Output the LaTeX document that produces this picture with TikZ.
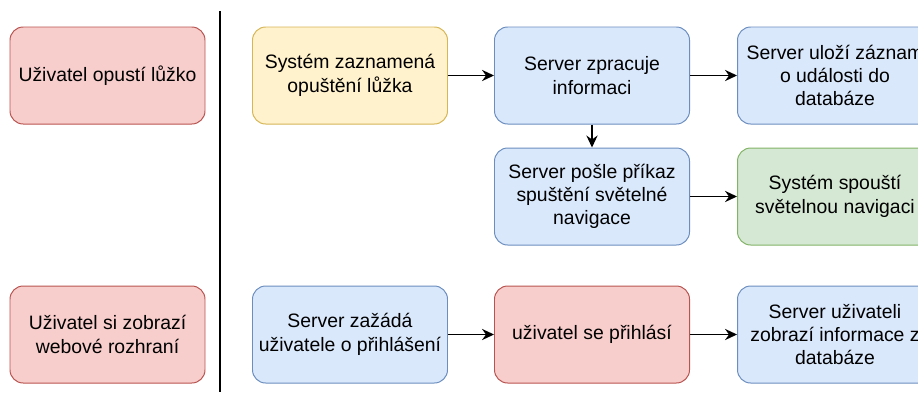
\documentclass[tikz,border=0pt]{standalone}
\usepackage{fontspec}
\setmainfont{Liberation Sans}
\usepackage{tikz}
\usepackage{xcolor}
\usetikzlibrary{positioning, arrows.meta}

\definecolor{userfill}{HTML}{F8CECC}
\definecolor{userline}{HTML}{B85450}
\definecolor{sensorfill}{HTML}{FFF2CC}
\definecolor{sensorline}{HTML}{D6B656}
\definecolor{serverfill}{HTML}{DAE8FC}
\definecolor{serverline}{HTML}{6C8EBF}
\definecolor{lightfill}{HTML}{D5E8D4}
\definecolor{lightline}{HTML}{82B366}

\begin{document}
\begin{tikzpicture}[
    box/.style={rectangle, rounded corners=0.33cm, draw, line width=0.7pt,
        minimum width=4.875cm, minimum height=2.425cm, align=center,
        font=\fontsize{13.8}{16.6}\selectfont},
    userbox/.style={box, fill=userfill, draw=userline},
    sensorbox/.style={box, fill=sensorfill, draw=sensorline},
    serverbox/.style={box, fill=serverfill, draw=serverline},
    lightbox/.style={box, fill=lightfill, draw=lightline},
    flow/.style={-{Stealth[length=0.3cm, width=0.28cm, inset=0.1cm]}, line width=1pt}
]
    \useasboundingbox (0, 0) rectangle (22.95, -9.8);

    \node[userbox] (opusti) at (2.6875, -1.8875) {Uživatel opustí lůžko};
    \node[sensorbox] (zaznamena) at (8.75, -1.8875) {Systém zaznamená\\opuštění lůžka};
    \node[serverbox] (zpracuje) at (14.8, -1.8875) {Server zpracuje\\informaci};
    \node[serverbox] (ulozi) at (20.875, -1.8875) {Server uloží záznam\\o události do\\databáze};
    \node[serverbox] (posle) at (14.8, -4.9125) {Server pošle příkaz\\spuštění světelné\\navigace};
    \node[lightbox] (spousti) at (20.875, -4.9125) {Systém spouští\\světelnou navigaci};

    \node[userbox] (zobrazi) at (2.6875, -8.3625) {Uživatel si zobrazí\\webové rozhraní};
    \node[serverbox] (zazada) at (8.75, -8.3625) {Server zažádá\\uživatele o přihlášení};
    \node[userbox] (prihlasi) at (14.8, -8.3625) {uživatel se přihlásí};
    \node[serverbox] (informace) at (20.875, -8.3625) {Server uživateli\\zobrazí informace z\\databáze};

    \coordinate (delici) at (5.5, -0.275);
    \coordinate (delici2) at (5.5, -9.8);
    \draw[line width=1pt] (delici) -- (delici2);

    \draw[flow] (zaznamena) -- (zpracuje);
    \draw[flow] (zpracuje) -- (ulozi);
    \draw[flow] (zpracuje) -- (posle);
    \draw[flow] (posle) -- (spousti);
    \draw[flow] (zazada) -- (prihlasi);
    \draw[flow] (prihlasi) -- (informace);
\end{tikzpicture}
\end{document}
